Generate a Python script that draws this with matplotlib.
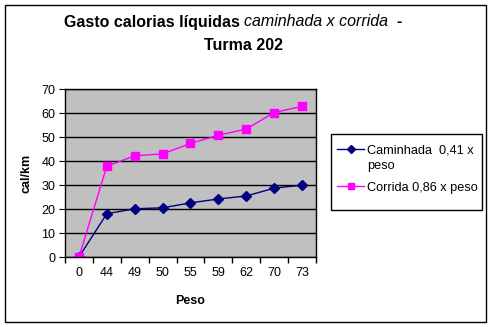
import matplotlib
matplotlib.use("Agg")
import matplotlib.pyplot as plt
from matplotlib.patches import Rectangle
from matplotlib.lines import Line2D

# data
peso = ["0", "44", "49", "50", "55", "59", "62", "70", "73"]
caminhada = [0, 18.04, 20.09, 20.5, 22.55, 24.19, 25.42, 28.7, 29.93]
corrida = [0, 37.84, 42.14, 43.0, 47.3, 50.74, 53.32, 60.2, 62.78]
series_labels = ["Caminhada  0,41 x\npeso", "Corrida 0,86 x peso"]

plt.rcParams["font.family"] = ["Liberation Sans", "DejaVu Sans"]

W, H = 492, 327
fig = plt.figure(figsize=(W / 100, H / 100), dpi=100)
fig.patch.set_facecolor("white")

# outer border
fig.add_artist(Rectangle((5 / W, 1 - 322 / H), (486 - 5) / W, (322 - 5) / H,
                         transform=fig.transFigure, fill=False,
                         edgecolor="black", linewidth=1))

ax = fig.add_axes([65 / W, 1 - 257 / H, (316 - 65) / W, (257 - 89) / H])
ax.set_facecolor("#c0c0c0")

styles = [dict(color="#000080", marker="D", markersize=5),
          dict(color="#ff00ff", marker="s", markersize=5.5)]

x = list(range(len(peso)))
for vals, st, lab in zip([caminhada, corrida], styles, series_labels):
    ax.plot(x, vals, linewidth=1, label=lab, **st)

ax.set_xlim(-0.5, len(peso) - 0.5)
ax.set_ylim(0, 70)
ax.set_yticks(range(0, 71, 10))
ax.yaxis.grid(True, color="black", linewidth=1)
ax.set_axisbelow(True)

ax.set_xticks(x)
ax.set_xticklabels(peso)
ax.set_xticks([i - 0.5 for i in range(len(peso) + 1)], minor=True)
ax.tick_params(axis="x", which="major", length=0, labelsize=9, pad=7)
ax.tick_params(axis="x", which="minor", length=4, direction="out", width=1)
ax.tick_params(axis="y", length=4, direction="out", labelsize=9, pad=3)
for s in ax.spines.values():
    s.set_linewidth(1)
    s.set_color("black")

ax.set_xlabel("Peso", fontweight="bold", fontsize=9, labelpad=12)
ax.set_ylabel("cal/km", fontweight="bold", fontsize=9, labelpad=6)

# title with italic part
fig.canvas.draw()
r = fig.canvas.get_renderer()
pieces = [("Gasto calorias líquidas ", "bold", "normal"),
          ("caminhada x corrida", "normal", "italic"),
          ("  -", "bold", "normal")]
texts = []
for s, wt, st in pieces:
    t = fig.text(0, 1 - 22 / H, s, fontsize=11.5, fontweight=wt,
                 fontstyle=st, va="center", ha="left")
    texts.append(t)
widths = [t.get_window_extent(r).width for t in texts]
total = sum(widths)
xpos = 233 - total / 2
for t, w in zip(texts, widths):
    t.set_x(xpos / W)
    xpos += w
fig.text(244 / W, 1 - 45 / H, "Turma 202", fontsize=11.5, fontweight="bold",
         ha="center", va="center")

# legend box, drawn by hand so the marker sits on the first text line
fig.add_artist(Rectangle((331 / W, 1 - 210 / H), (482 - 331) / W, (210 - 134) / H,
                         transform=fig.transFigure, facecolor="white",
                         edgecolor="black", linewidth=1))
row_y = [149, 186]
for yy, st, lab in zip(row_y, styles, series_labels):
    fy = 1 - yy / H
    fig.add_artist(Line2D([337 / W, 364 / W], [fy, fy],
                          transform=fig.transFigure, linewidth=1,
                          color=st["color"]))
    fig.add_artist(Line2D([350.5 / W], [fy], transform=fig.transFigure,
                          linestyle="none", color=st["color"],
                          marker=st["marker"],
                          markersize=st["markersize"] - 0.5))
    fig.text(367 / W, 1 - (yy - 4) / H, lab, fontsize=9.2, va="top",
             ha="left", linespacing=1.35)

fig.savefig("out.png", dpi=100)
